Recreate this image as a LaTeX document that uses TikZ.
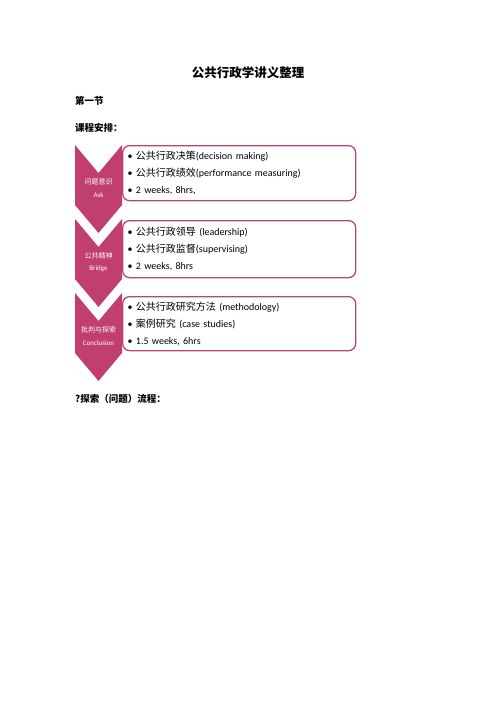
\documentclass[tikz,border=0pt]{standalone}
\usepackage{fontspec}
\setmainfont{Carlito}
\newfontfamily\cjk{Noto Sans CJK SC}
\usetikzlibrary{positioning}
\definecolor{chev}{RGB}{192,62,112}
\definecolor{boxline}{RGB}{182,70,122}
\tikzstyle{head}=[anchor=west,inner sep=0pt,font=\cjk\bfseries\fontsize{9.5}{11}\selectfont]
\tikzstyle{box}=[draw=boxline,line width=1.3pt,fill=white,rounded corners=7pt,
  anchor=north west,minimum width=233pt,inner xsep=5pt,text width=223pt,align=left,
  font=\fontsize{10}{17}\selectfont\frenchspacing]

\begin{document}
\begin{tikzpicture}[x=1pt,y=-1pt]
    \useasboundingbox (0,0) rectangle (496,702);
    \node[font=\cjk\bfseries\fontsize{12.5}{14}\selectfont](title) at (248,73){公共行政学讲义整理};
    \node[head](section) at (75,101){第一节};
    \node[head](plan) at (75,128){课程安排：};
    %
    \node[box,minimum height=55pt](askbox) at (122,145){%
      \textbullet\ {\cjk 公共行政决策}(decision making)\\
      \textbullet\ {\cjk 公共行政绩效}(performance measuring)\\
      \textbullet\ 2 weeks, 8hrs,};
    \node[box,minimum height=57pt](bridgebox) at (122,220){%
      \textbullet\ {\cjk 公共行政领导} (leadership)\\
      \textbullet\ {\cjk 公共行政监督}(supervising)\\
      \textbullet\ 2 weeks, 8hrs};
    \node[box,minimum height=54pt](conclbox) at (122,296){%
      \textbullet\ {\cjk 公共行政研究方法} (methodology)\\
      \textbullet\ {\cjk 案例研究} (case studies)\\
      \textbullet\ 1.5 weeks, 6hrs};
    %
    \tikzstyle{tag}=[text=white,align=center,inner sep=0pt,font=\fontsize{7}{12.5}\selectfont]
    \foreach \yt/\n/\cn/\en in {145/ask/问题意识/Ask,219/bridge/公共精神/Bridge,293/concl/批判与探索/Conclusion}{
      \fill[chev] (75,\yt) -- (98.5,\yt+28) -- (122,\yt) -- (122,\yt+60)
                  -- (98.5,\yt+88) -- (75,\yt+60) -- cycle;
      \node[tag](\n) at (98.5,\yt+43){{\cjk \cn}\\\en};
    }
    %
    \node[head](flow) at (75,399){?探索（问题）流程：};
\end{tikzpicture}
\end{document}
